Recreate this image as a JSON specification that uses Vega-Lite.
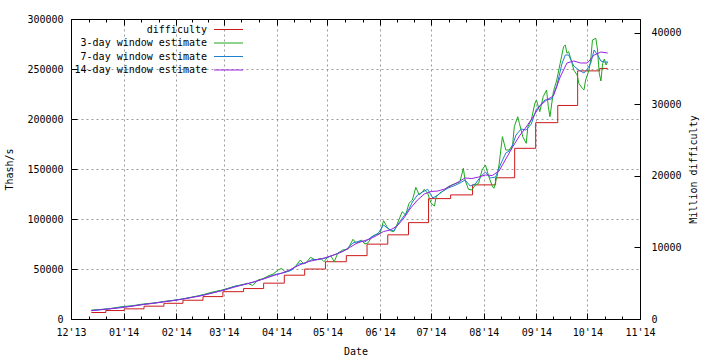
{
  "$schema": "https://vega.github.io/schema/vega-lite/v6.json",
  "width": 569,
  "height": 300,
  "autosize": "none",
  "padding": {"left": 71, "top": 19, "right": 80, "bottom": 41},
  "background": "white",
  "config": {
    "font": "DejaVu Sans Mono",
    "view": {"stroke": "black", "strokeWidth": 1},
    "axis": {
      "labelFont": "DejaVu Sans Mono", "labelFontSize": 10, "labelColor": "black",
      "titleFont": "DejaVu Sans Mono", "titleFontSize": 10, "titleFontWeight": "normal", "titleColor": "black",
      "domain": false, "tickColor": "black", "gridColor": "#9a9a9a", "gridDash": [2, 3],
      "labelOverlap": false, "labelFlush": false, "labelBound": false
    },
    "line": {"strokeWidth": 1}
  },
  "datasets": {
    "diff": [
      {"d": "2013-12-13", "v": 908}, {"d": "2013-12-21T12:00Z", "v": 1181}, {"d": "2014-01-01T07:00Z", "v": 1418},
      {"d": "2014-01-13", "v": 1790}, {"d": "2014-01-24T17:00Z", "v": 2194}, {"d": "2014-02-04T22:00Z", "v": 2621},
      {"d": "2014-02-16T17:00Z", "v": 3130}, {"d": "2014-02-28T10:00Z", "v": 3816}, {"d": "2014-03-12T14:00Z", "v": 4250},
      {"d": "2014-03-24T10:00Z", "v": 5007}, {"d": "2014-04-05T14:00Z", "v": 6120}, {"d": "2014-04-17T14:00Z", "v": 6979},
      {"d": "2014-04-29T19:00Z", "v": 8001}, {"d": "2014-05-12T02:00Z", "v": 8853}, {"d": "2014-05-24T07:00Z", "v": 10456},
      {"d": "2014-06-05T12:00Z", "v": 11757}, {"d": "2014-06-17T17:00Z", "v": 13463}, {"d": "2014-06-29T12:00Z", "v": 16818},
      {"d": "2014-07-12T12:00Z", "v": 17336}, {"d": "2014-07-25T10:00Z", "v": 18736}, {"d": "2014-08-08", "v": 19730},
      {"d": "2014-08-19T05:00Z", "v": 23845}, {"d": "2014-08-31T14:00Z", "v": 27429}, {"d": "2014-09-13T14:00Z", "v": 29830},
      {"d": "2014-09-25T07:00Z", "v": 34661}, {"d": "2014-10-08T07:00Z", "v": 35002}, {"d": "2014-10-13", "v": 35002}
    ],
    "est3": [
      {"d": "2013-12-13", "v": 8800}, {"d": "2013-12-18", "v": 9500}, {"d": "2013-12-23", "v": 10200}, {"d": "2013-12-28", "v": 11500},
      {"d": "2014-01-01", "v": 12500}, {"d": "2014-01-06", "v": 13200}, {"d": "2014-01-11", "v": 14600}, {"d": "2014-01-15", "v": 15400},
      {"d": "2014-01-20", "v": 16200}, {"d": "2014-01-25", "v": 17600}, {"d": "2014-01-30", "v": 18600}, {"d": "2014-02-03", "v": 19600},
      {"d": "2014-02-08", "v": 21200}, {"d": "2014-02-13", "v": 22800}, {"d": "2014-02-17", "v": 24500}, {"d": "2014-02-22", "v": 26800},
      {"d": "2014-02-27", "v": 28600}, {"d": "2014-03-03", "v": 30500}, {"d": "2014-03-08", "v": 33000}, {"d": "2014-03-11", "v": 34000},
      {"d": "2014-03-15", "v": 35700}, {"d": "2014-03-18", "v": 33500}, {"d": "2014-03-21", "v": 39000}, {"d": "2014-03-24", "v": 40300},
      {"d": "2014-03-27", "v": 43000}, {"d": "2014-03-30", "v": 45000}, {"d": "2014-04-02", "v": 49000}, {"d": "2014-04-04", "v": 50700},
      {"d": "2014-04-06", "v": 47300}, {"d": "2014-04-09", "v": 48300}, {"d": "2014-04-12", "v": 52300}, {"d": "2014-04-15", "v": 59000},
      {"d": "2014-04-17", "v": 55000}, {"d": "2014-04-19", "v": 57300}, {"d": "2014-04-21", "v": 61700}, {"d": "2014-04-24", "v": 59000},
      {"d": "2014-04-27", "v": 60700}, {"d": "2014-04-29", "v": 57300}, {"d": "2014-05-01", "v": 61700}, {"d": "2014-05-03", "v": 63000},
      {"d": "2014-05-05", "v": 57300}, {"d": "2014-05-07", "v": 65700}, {"d": "2014-05-10", "v": 69000}, {"d": "2014-05-13", "v": 69700},
      {"d": "2014-05-16", "v": 79700}, {"d": "2014-05-18", "v": 75700}, {"d": "2014-05-21", "v": 79000}, {"d": "2014-05-23", "v": 75000},
      {"d": "2014-05-25", "v": 76300}, {"d": "2014-05-27", "v": 82300}, {"d": "2014-05-29", "v": 84000}, {"d": "2014-06-01", "v": 85700},
      {"d": "2014-06-03", "v": 98300}, {"d": "2014-06-05", "v": 92300}, {"d": "2014-06-07", "v": 88300}, {"d": "2014-06-09", "v": 87300},
      {"d": "2014-06-10", "v": 90700}, {"d": "2014-06-12", "v": 99000}, {"d": "2014-06-14", "v": 107300}, {"d": "2014-06-16", "v": 104000},
      {"d": "2014-06-18", "v": 115700}, {"d": "2014-06-20", "v": 119000}, {"d": "2014-06-22", "v": 131700}, {"d": "2014-06-24", "v": 124000},
      {"d": "2014-06-26", "v": 127300}, {"d": "2014-06-27", "v": 129700}, {"d": "2014-06-29", "v": 125700}, {"d": "2014-07-01", "v": 115700},
      {"d": "2014-07-03", "v": 113000}, {"d": "2014-07-04", "v": 122300}, {"d": "2014-07-06", "v": 125700}, {"d": "2014-07-09", "v": 129000},
      {"d": "2014-07-11", "v": 132300}, {"d": "2014-07-13", "v": 134000}, {"d": "2014-07-16", "v": 135700}, {"d": "2014-07-18", "v": 137300},
      {"d": "2014-07-20", "v": 150700}, {"d": "2014-07-21", "v": 139000}, {"d": "2014-07-23", "v": 129700}, {"d": "2014-07-25", "v": 129000},
      {"d": "2014-07-27", "v": 134000}, {"d": "2014-07-29", "v": 135700}, {"d": "2014-07-31", "v": 149000}, {"d": "2014-08-02", "v": 154000},
      {"d": "2014-08-04", "v": 142300}, {"d": "2014-08-06", "v": 133000}, {"d": "2014-08-07", "v": 130700}, {"d": "2014-08-09", "v": 144000},
      {"d": "2014-08-10", "v": 154000}, {"d": "2014-08-12", "v": 182300}, {"d": "2014-08-14", "v": 169000}, {"d": "2014-08-16", "v": 169000},
      {"d": "2014-08-18", "v": 174000}, {"d": "2014-08-19", "v": 192300}, {"d": "2014-08-21", "v": 202300}, {"d": "2014-08-22", "v": 195700},
      {"d": "2014-08-24", "v": 182300}, {"d": "2014-08-26", "v": 175700}, {"d": "2014-08-27", "v": 192300}, {"d": "2014-08-29", "v": 199000},
      {"d": "2014-08-31", "v": 215000}, {"d": "2014-09-01", "v": 219000}, {"d": "2014-09-03", "v": 207300}, {"d": "2014-09-05", "v": 222300},
      {"d": "2014-09-07", "v": 229000}, {"d": "2014-09-08", "v": 212300}, {"d": "2014-09-09", "v": 202300}, {"d": "2014-09-11", "v": 227300},
      {"d": "2014-09-13", "v": 239000}, {"d": "2014-09-15", "v": 255700}, {"d": "2014-09-17", "v": 272300}, {"d": "2014-09-18", "v": 274000},
      {"d": "2014-09-19", "v": 265700}, {"d": "2014-09-20", "v": 267300}, {"d": "2014-09-22", "v": 255700}, {"d": "2014-09-23", "v": 249000},
      {"d": "2014-09-25", "v": 244000}, {"d": "2014-09-26", "v": 235700}, {"d": "2014-09-28", "v": 230700}, {"d": "2014-09-29", "v": 229000},
      {"d": "2014-09-30", "v": 239000}, {"d": "2014-10-02", "v": 249000}, {"d": "2014-10-03", "v": 259000}, {"d": "2014-10-04", "v": 279000},
      {"d": "2014-10-06", "v": 280700}, {"d": "2014-10-07", "v": 269000}, {"d": "2014-10-08", "v": 245700}, {"d": "2014-10-09", "v": 238000},
      {"d": "2014-10-10", "v": 255700}, {"d": "2014-10-11", "v": 260000}, {"d": "2014-10-12", "v": 254000}, {"d": "2014-10-13", "v": 257300}
    ],
    "est7": [
      {"d": "2013-12-13", "v": 8600}, {"d": "2013-12-19", "v": 9500}, {"d": "2013-12-25", "v": 10500}, {"d": "2013-12-31", "v": 12000},
      {"d": "2014-01-06", "v": 13000}, {"d": "2014-01-12", "v": 14500}, {"d": "2014-01-18", "v": 15700}, {"d": "2014-01-24", "v": 17200},
      {"d": "2014-01-30", "v": 18500}, {"d": "2014-02-05", "v": 20000}, {"d": "2014-02-11", "v": 22000}, {"d": "2014-02-17", "v": 24000},
      {"d": "2014-02-23", "v": 26500}, {"d": "2014-03-01", "v": 29000}, {"d": "2014-03-07", "v": 32500}, {"d": "2014-03-13", "v": 34500},
      {"d": "2014-03-19", "v": 37000}, {"d": "2014-03-25", "v": 40500}, {"d": "2014-03-31", "v": 44500}, {"d": "2014-04-06", "v": 46500},
      {"d": "2014-04-10", "v": 49000}, {"d": "2014-04-14", "v": 55000}, {"d": "2014-04-18", "v": 56000}, {"d": "2014-04-22", "v": 59500},
      {"d": "2014-04-26", "v": 59500}, {"d": "2014-04-30", "v": 61000}, {"d": "2014-05-04", "v": 63500}, {"d": "2014-05-08", "v": 66300},
      {"d": "2014-05-12", "v": 69500}, {"d": "2014-05-16", "v": 76000}, {"d": "2014-05-20", "v": 78000}, {"d": "2014-05-23", "v": 77000},
      {"d": "2014-05-27", "v": 82000}, {"d": "2014-05-31", "v": 86000}, {"d": "2014-06-03", "v": 94000}, {"d": "2014-06-06", "v": 90000},
      {"d": "2014-06-09", "v": 88000}, {"d": "2014-06-12", "v": 96000}, {"d": "2014-06-15", "v": 103000}, {"d": "2014-06-18", "v": 110000},
      {"d": "2014-06-20", "v": 117000}, {"d": "2014-06-23", "v": 124000}, {"d": "2014-06-26", "v": 127000}, {"d": "2014-06-29", "v": 129700},
      {"d": "2014-07-02", "v": 121000}, {"d": "2014-07-05", "v": 124000}, {"d": "2014-07-08", "v": 128000}, {"d": "2014-07-11", "v": 131000},
      {"d": "2014-07-15", "v": 133500}, {"d": "2014-07-18", "v": 136000}, {"d": "2014-07-21", "v": 139000}, {"d": "2014-07-24", "v": 133000},
      {"d": "2014-07-27", "v": 135000}, {"d": "2014-07-30", "v": 142000}, {"d": "2014-08-02", "v": 147000}, {"d": "2014-08-05", "v": 141000},
      {"d": "2014-08-08", "v": 142000}, {"d": "2014-08-11", "v": 155000}, {"d": "2014-08-14", "v": 166000}, {"d": "2014-08-17", "v": 169000},
      {"d": "2014-08-20", "v": 184000}, {"d": "2014-08-23", "v": 190000}, {"d": "2014-08-26", "v": 189000}, {"d": "2014-08-29", "v": 195000},
      {"d": "2014-09-01", "v": 210000}, {"d": "2014-09-04", "v": 215000}, {"d": "2014-09-06", "v": 219000}, {"d": "2014-09-10", "v": 220000},
      {"d": "2014-09-13", "v": 233000}, {"d": "2014-09-16", "v": 255000}, {"d": "2014-09-18", "v": 264000}, {"d": "2014-09-20", "v": 264000},
      {"d": "2014-09-23", "v": 253000}, {"d": "2014-09-26", "v": 249000}, {"d": "2014-09-29", "v": 246000}, {"d": "2014-10-01", "v": 250000},
      {"d": "2014-10-03", "v": 256000}, {"d": "2014-10-05", "v": 269000}, {"d": "2014-10-07", "v": 264000}, {"d": "2014-10-09", "v": 258000},
      {"d": "2014-10-11", "v": 257000}, {"d": "2014-10-13", "v": 257000}
    ],
    "est14": [
      {"d": "2013-12-13", "v": 8300}, {"d": "2013-12-17", "v": 9000}, {"d": "2013-12-21", "v": 9600}, {"d": "2013-12-25", "v": 10300},
      {"d": "2013-12-29", "v": 11000}, {"d": "2014-01-02", "v": 11800}, {"d": "2014-01-06", "v": 12800}, {"d": "2014-01-10", "v": 13800},
      {"d": "2014-01-14", "v": 14800}, {"d": "2014-01-18", "v": 15600}, {"d": "2014-01-22", "v": 16500}, {"d": "2014-01-26", "v": 17500},
      {"d": "2014-01-30", "v": 18400}, {"d": "2014-02-03", "v": 19400}, {"d": "2014-02-07", "v": 20600}, {"d": "2014-02-11", "v": 21800},
      {"d": "2014-02-15", "v": 23000}, {"d": "2014-02-19", "v": 24600}, {"d": "2014-02-23", "v": 26300}, {"d": "2014-02-27", "v": 28000},
      {"d": "2014-03-03", "v": 29800}, {"d": "2014-03-07", "v": 31800}, {"d": "2014-03-11", "v": 33600}, {"d": "2014-03-15", "v": 35400},
      {"d": "2014-03-19", "v": 37400}, {"d": "2014-03-23", "v": 39400}, {"d": "2014-03-27", "v": 41600}, {"d": "2014-03-31", "v": 43800},
      {"d": "2014-04-04", "v": 45800}, {"d": "2014-04-08", "v": 48500}, {"d": "2014-04-12", "v": 52000}, {"d": "2014-04-16", "v": 55000},
      {"d": "2014-04-20", "v": 57500}, {"d": "2014-04-24", "v": 59000}, {"d": "2014-04-28", "v": 60500}, {"d": "2014-05-02", "v": 62500},
      {"d": "2014-05-06", "v": 64800}, {"d": "2014-05-10", "v": 67500}, {"d": "2014-05-14", "v": 71500}, {"d": "2014-05-18", "v": 75500},
      {"d": "2014-05-22", "v": 78000}, {"d": "2014-05-26", "v": 80000}, {"d": "2014-05-30", "v": 83500}, {"d": "2014-06-03", "v": 87500},
      {"d": "2014-06-07", "v": 89000}, {"d": "2014-06-11", "v": 93000}, {"d": "2014-06-15", "v": 101000}, {"d": "2014-06-19", "v": 111000},
      {"d": "2014-06-23", "v": 119000}, {"d": "2014-06-27", "v": 125000}, {"d": "2014-07-01", "v": 127500}, {"d": "2014-07-05", "v": 128000},
      {"d": "2014-07-09", "v": 130000}, {"d": "2014-07-13", "v": 133500}, {"d": "2014-07-17", "v": 137000}, {"d": "2014-07-21", "v": 141000},
      {"d": "2014-07-25", "v": 140500}, {"d": "2014-07-29", "v": 142000}, {"d": "2014-08-02", "v": 144000}, {"d": "2014-08-06", "v": 143500},
      {"d": "2014-08-10", "v": 148000}, {"d": "2014-08-14", "v": 160000}, {"d": "2014-08-18", "v": 172000}, {"d": "2014-08-22", "v": 183000},
      {"d": "2014-08-26", "v": 192000}, {"d": "2014-08-30", "v": 202000}, {"d": "2014-09-03", "v": 213000}, {"d": "2014-09-07", "v": 219000},
      {"d": "2014-09-11", "v": 223000}, {"d": "2014-09-15", "v": 242000}, {"d": "2014-09-19", "v": 256000}, {"d": "2014-09-23", "v": 258000},
      {"d": "2014-09-27", "v": 256000}, {"d": "2014-10-01", "v": 256000}, {"d": "2014-10-05", "v": 264000}, {"d": "2014-10-09", "v": 267000},
      {"d": "2014-10-13", "v": 266000}
    ]
  },
  "layer": [
    {
      "data": {"name": "diff"},
      "mark": {"type": "line", "interpolate": "step-after", "strokeWidth": 1},
      "encoding": {
        "x": {
          "field": "d", "type": "temporal",
          "scale": {"type": "utc", "domain": [{"year": 2013, "month": 12, "date": 1, "utc": true}, {"year": 2014, "month": 11, "date": 1, "utc": true}]},
          "axis": {
            "orient": "top", "title": null, "labels": false, "grid": false,
            "values": [
              {"year": 2013, "month": 12, "date": 1, "utc": true}, {"year": 2013, "month": 12, "date": 11, "hours": 8, "utc": true}, {"year": 2013, "month": 12, "date": 21, "hours": 16, "utc": true},
              {"year": 2014, "month": 1, "date": 1, "utc": true}, {"year": 2014, "month": 1, "date": 11, "hours": 8, "utc": true}, {"year": 2014, "month": 1, "date": 21, "hours": 16, "utc": true},
              {"year": 2014, "month": 2, "date": 1, "utc": true}, {"year": 2014, "month": 2, "date": 10, "hours": 8, "utc": true}, {"year": 2014, "month": 2, "date": 19, "hours": 16, "utc": true},
              {"year": 2014, "month": 3, "date": 1, "utc": true}, {"year": 2014, "month": 3, "date": 11, "hours": 8, "utc": true}, {"year": 2014, "month": 3, "date": 21, "hours": 16, "utc": true},
              {"year": 2014, "month": 4, "date": 1, "utc": true}, {"year": 2014, "month": 4, "date": 11, "utc": true}, {"year": 2014, "month": 4, "date": 21, "utc": true},
              {"year": 2014, "month": 5, "date": 1, "utc": true}, {"year": 2014, "month": 5, "date": 11, "hours": 8, "utc": true}, {"year": 2014, "month": 5, "date": 21, "hours": 16, "utc": true},
              {"year": 2014, "month": 6, "date": 1, "utc": true}, {"year": 2014, "month": 6, "date": 11, "utc": true}, {"year": 2014, "month": 6, "date": 21, "utc": true},
              {"year": 2014, "month": 7, "date": 1, "utc": true}, {"year": 2014, "month": 7, "date": 11, "hours": 8, "utc": true}, {"year": 2014, "month": 7, "date": 21, "hours": 16, "utc": true},
              {"year": 2014, "month": 8, "date": 1, "utc": true}, {"year": 2014, "month": 8, "date": 11, "hours": 8, "utc": true}, {"year": 2014, "month": 8, "date": 21, "hours": 16, "utc": true},
              {"year": 2014, "month": 9, "date": 1, "utc": true}, {"year": 2014, "month": 9, "date": 11, "utc": true}, {"year": 2014, "month": 9, "date": 21, "utc": true},
              {"year": 2014, "month": 10, "date": 1, "utc": true}, {"year": 2014, "month": 10, "date": 11, "hours": 8, "utc": true}, {"year": 2014, "month": 10, "date": 21, "hours": 16, "utc": true},
              {"year": 2014, "month": 11, "date": 1, "utc": true}
            ],
            "tickSize": {"condition": {"test": "utcdate(datum.value) == 1", "value": -6}, "value": -3}
          }
        },
        "y": {
          "field": "v", "type": "quantitative",
          "scale": {"domain": [0, 41910], "nice": false, "zero": true},
          "axis": {
            "orient": "right", "title": "Million difficulty", "titleAngle": 270,
            "values": [0, 10000, 20000, 30000, 40000], "format": "d", "grid": false,
            "tickSize": -6, "labelPadding": 17, "titlePadding": 17
          }
        },
        "color": {
          "datum": "difficulty", "type": "nominal",
          "scale": {
            "domain": ["difficulty", "3-day window estimate", "7-day window estimate", "14-day window estimate"],
            "range": ["#cc1a1a", "#1ca81c", "#1f80d0", "#9b22e0"]
          },
          "legend": {
            "orient": "none", "legendX": 152, "legendY": 5, "title": null,
            "symbolType": "M-3,0H3", "symbolSize": 93.4, "symbolStrokeWidth": 1,
            "labelAlign": "right", "labelOffset": -27, "labelFont": "DejaVu Sans Mono",
            "labelFontSize": 10, "labelColor": "black", "rowPadding": 2.5, "padding": 0
          }
        }
      }
    },
    {
      "encoding": {
        "x": {
          "field": "d", "type": "temporal",
          "scale": {"type": "utc", "domain": [{"year": 2013, "month": 12, "date": 1, "utc": true}, {"year": 2014, "month": 11, "date": 1, "utc": true}]},
          "axis": {
            "orient": "bottom", "title": "Date", "grid": true, "titlePadding": 6,
            "values": [
              {"year": 2013, "month": 12, "date": 1, "utc": true}, {"year": 2013, "month": 12, "date": 11, "hours": 8, "utc": true}, {"year": 2013, "month": 12, "date": 21, "hours": 16, "utc": true},
              {"year": 2014, "month": 1, "date": 1, "utc": true}, {"year": 2014, "month": 1, "date": 11, "hours": 8, "utc": true}, {"year": 2014, "month": 1, "date": 21, "hours": 16, "utc": true},
              {"year": 2014, "month": 2, "date": 1, "utc": true}, {"year": 2014, "month": 2, "date": 10, "hours": 8, "utc": true}, {"year": 2014, "month": 2, "date": 19, "hours": 16, "utc": true},
              {"year": 2014, "month": 3, "date": 1, "utc": true}, {"year": 2014, "month": 3, "date": 11, "hours": 8, "utc": true}, {"year": 2014, "month": 3, "date": 21, "hours": 16, "utc": true},
              {"year": 2014, "month": 4, "date": 1, "utc": true}, {"year": 2014, "month": 4, "date": 11, "utc": true}, {"year": 2014, "month": 4, "date": 21, "utc": true},
              {"year": 2014, "month": 5, "date": 1, "utc": true}, {"year": 2014, "month": 5, "date": 11, "hours": 8, "utc": true}, {"year": 2014, "month": 5, "date": 21, "hours": 16, "utc": true},
              {"year": 2014, "month": 6, "date": 1, "utc": true}, {"year": 2014, "month": 6, "date": 11, "utc": true}, {"year": 2014, "month": 6, "date": 21, "utc": true},
              {"year": 2014, "month": 7, "date": 1, "utc": true}, {"year": 2014, "month": 7, "date": 11, "hours": 8, "utc": true}, {"year": 2014, "month": 7, "date": 21, "hours": 16, "utc": true},
              {"year": 2014, "month": 8, "date": 1, "utc": true}, {"year": 2014, "month": 8, "date": 11, "hours": 8, "utc": true}, {"year": 2014, "month": 8, "date": 21, "hours": 16, "utc": true},
              {"year": 2014, "month": 9, "date": 1, "utc": true}, {"year": 2014, "month": 9, "date": 11, "utc": true}, {"year": 2014, "month": 9, "date": 21, "utc": true},
              {"year": 2014, "month": 10, "date": 1, "utc": true}, {"year": 2014, "month": 10, "date": 11, "hours": 8, "utc": true}, {"year": 2014, "month": 10, "date": 21, "hours": 16, "utc": true},
              {"year": 2014, "month": 11, "date": 1, "utc": true}
            ],
            "labelExpr": "utcdate(datum.value) == 1 ? utcFormat(datum.value, \"%m'%y\") : ''",
            "tickSize": {"condition": {"test": "utcdate(datum.value) == 1", "value": -6}, "value": -3},
            "labelPadding": 14,
            "gridOpacity": {"condition": {"test": "utcdate(datum.value) == 1 && utcmonth(datum.value) != 11 && utcmonth(datum.value) != 10", "value": 1}, "value": 0}
          }
        },
        "y": {
          "field": "v", "type": "quantitative",
          "scale": {"domain": [0, 300000], "nice": false},
          "axis": {
            "orient": "left", "title": "Thash/s",
            "values": [0, 50000, 100000, 150000, 200000, 250000, 300000], "format": "d",
            "grid": true, "tickSize": -6, "labelPadding": 14, "titlePadding": 12,
            "gridOpacity": {"condition": {"test": "datum.value > 0 && datum.value < 300000", "value": 1}, "value": 0}
          }
        }
      },
      "layer": [
        {"data": {"name": "est3"}, "mark": {"type": "line", "strokeWidth": 1}, "encoding": {"color": {"datum": "3-day window estimate", "type": "nominal"}}},
        {"data": {"name": "est7"}, "mark": {"type": "line", "strokeWidth": 1}, "encoding": {"color": {"datum": "7-day window estimate", "type": "nominal"}}},
        {"data": {"name": "est14"}, "mark": {"type": "line", "strokeWidth": 1}, "encoding": {"color": {"datum": "14-day window estimate", "type": "nominal"}}}
      ]
    }
  ],
  "resolve": {"scale": {"y": "independent"}, "axis": {"x": "independent", "y": "independent"}}
}
